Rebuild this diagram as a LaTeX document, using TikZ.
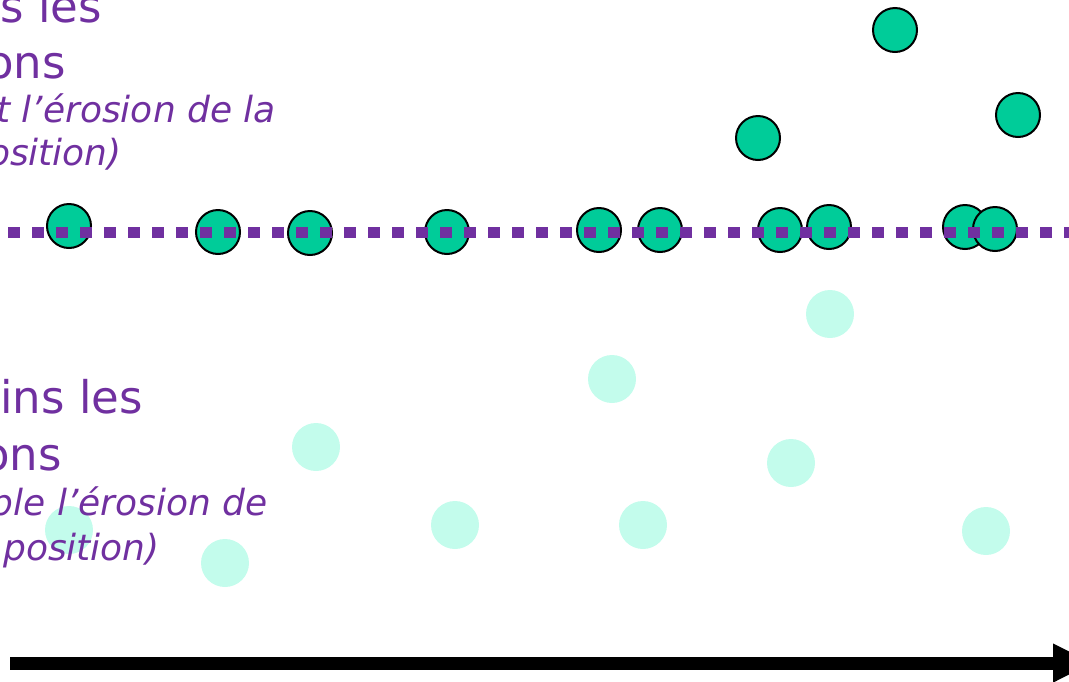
\documentclass[tikz,border=0pt]{standalone}
\usepackage{fontspec}
\setmainfont{DejaVu Sans}
\usetikzlibrary{arrows.meta}
\definecolor{txtpurple}{HTML}{7030A0}
\definecolor{dotgreen}{HTML}{00CC99}
\definecolor{palegreen}{RGB}{195,252,236}
\tikzset{
  bigtxt/.style={anchor=base east, inner sep=0pt, text=txtpurple, font=\fontsize{45}{54}\selectfont},
  smalltxt/.style={anchor=base east, inner sep=0pt, text=txtpurple, font=\fontsize{36}{43}\selectfont\itshape},
  grain/.style={circle, draw=black, line width=2pt, fill=dotgreen, minimum size=44pt, inner sep=0pt},
  ghost/.style={circle, fill=palegreen, minimum size=48pt, inner sep=0pt},
  level/.style={draw=txtpurple, line width=11pt, dash pattern=on 12pt off 12pt},
  timeline/.style={draw=black, line width=13pt, -{Triangle[length=40pt,width=36pt]}}
}
\begin{document}
\begin{tikzpicture}[x=1pt,y=-1pt]
\useasboundingbox (0,0) rectangle (1069,681);
\clip (0,0) rectangle (1069,681);
% pale (removed) grains
\node[ghost] (g1) at (69,530) {};
\node[ghost] (g2) at (225,563) {};
\node[ghost] (g3) at (316,447) {};
\node[ghost] (g4) at (455,525) {};
\node[ghost] (g5) at (612,379) {};
\node[ghost] (g6) at (643,525) {};
\node[ghost] (g7) at (791,463) {};
\node[ghost] (g8) at (830,314) {};
\node[ghost] (g9) at (986,531) {};
% grains
\node[grain] (d1) at (69,226) {};
\node[grain] (d2) at (218,232) {};
\node[grain] (d3) at (310,233) {};
\node[grain] (d4) at (447,232) {};
\node[grain] (d5) at (599,230) {};
\node[grain] (d6) at (660,230) {};
\node[grain] (d7) at (780,230) {};
\node[grain] (d8) at (829,227) {};
\node[grain] (d9) at (965,227) {};
\node[grain] (d10) at (995,229) {};
\node[grain] (d11) at (758,138) {};
\node[grain] (d12) at (895,30) {};
\node[grain] (d13) at (1018,115) {};
% dotted level
\coordinate (lvA) at (8,232.5);
\coordinate (lvB) at (1080,232.5);
\draw[level] (lvA) -- (lvB);
% time arrow
\coordinate (arA) at (10,663);
\coordinate (arB) at (1093,663);
\draw[timeline] (arA) -- (arB);
% texts
\node[bigtxt] (t1) at (102,22) {s les};
\node[bigtxt] (t2) at (66,78) {ons};
\node[smalltxt] (t3) at (276,122) {t l’érosion de la};
\node[smalltxt] (t4) at (122,165) {osition)};
\node[bigtxt] (b1) at (143,413) {ins les};
\node[bigtxt] (b2) at (62,470) {ons};
\node[smalltxt] (b3) at (268,515) {ble l’érosion de};
\node[smalltxt] (b4) at (160,560) {position)};
\end{tikzpicture}
\end{document}
